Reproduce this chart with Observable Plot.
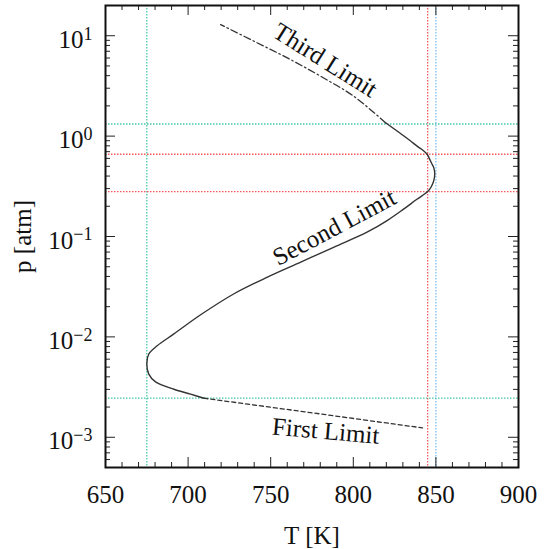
<!DOCTYPE html>
<html>
<head>
<meta charset="utf-8">
<script src="https://cdn.jsdelivr.net/npm/d3@7"></script>
<script src="https://cdn.jsdelivr.net/npm/@observablehq/plot@0.6"></script>
<style>
  html, body { margin: 0; padding: 0; background: #fff; }
</style>
</head>
<body>
<div id="chart"></div>
<script>
// Second explosion limit (solid)
const secondT = [709.6, 701.5, 691.4, 680.3, 676.2, 675, 676.2, 681.3, 691.4, 707.6, 727.8, 748, 768.2, 788.4, 808.6, 820.7, 830, 838.5, 845, 847.2, 848.8, 849.3, 848.8, 847.4, 846, 844.7, 842.3, 839, 834.5, 829, 819.5];
const secondP = [0.00245, 0.00269, 0.00301, 0.00356, 0.00426, 0.0054, 0.00675, 0.00817, 0.0107, 0.0166, 0.0269, 0.0394, 0.0556, 0.0785, 0.111, 0.145, 0.185, 0.235, 0.28, 0.313, 0.365, 0.42, 0.48, 0.536, 0.60, 0.66, 0.72, 0.785, 0.90, 1.05, 1.36];
// Third limit (dash-dot)
const thirdT = [819.5, 800.5, 780.3, 760.1, 739.9, 719.7];
const thirdP = [1.36, 2.48, 3.94, 6.01, 8.81, 12.9];
// First limit (dashed)
const firstT = [709.6, 774.2, 841.9];
const firstP = [0.00245, 0.00176, 0.00124];

// Reference lines
const refT = [675, 845, 850];
const refTColor = ["#45c8a5", "#f55a5a", "#7cc0f5"];
const refP = [1.32, 0.66, 0.28, 0.00245];
const refPColor = ["#45c8a5", "#f55a5a", "#f55a5a", "#45c8a5"];

// Curve labels
const labelText = ["Third Limit", "Second Limit", "First Limit"];
const labelT = [783, 788.5, 783.3];
const labelP = [5.7, 0.123, 0.00115];
const labelAngle = [32, -28, 5];

// Ticks
const xMajor = [650, 700, 750, 800, 850, 900];
const xMinor = d3.range(650, 901, 10).filter(v => v % 50 !== 0);
const yMajor = [1e-3, 1e-2, 1e-1, 1e0, 1e1];
const yExp = ["−3", "−2", "−1", "0", "1"];
const yMinor = [];
for (const e of [-4, -3, -2, -1, 0, 1]) for (let m = 2; m <= 9; m++) {
  const v = m * Math.pow(10, e);
  if (v >= 5e-4 && v <= 20) yMinor.push(v);
}

const toRows = (T, P) => T.map((t, i) => ({T: t, p: P[i]}));
const second = toRows(secondT, secondP);
const third = toRows(thirdT, thirdP);
const first = toRows(firstT, firstP);
const refTRows = refT.map((t, i) => ({T: t, c: refTColor[i]}));
const refPRows = refP.map((p, i) => ({p, c: refPColor[i]}));
const labels = labelText.map((s, i) => ({s, T: labelT[i], p: labelP[i], a: labelAngle[i]}));

const W = 547, H = 549, mL = 105, mR = 29, mT = 5, mB = 82;
const iw = W - mL - mR, ih = H - mT - mB;
const tickCol = "#222";
const FS = 25;

const svg = Plot.plot({
  width: W, height: H,
  marginLeft: mL, marginRight: mR, marginTop: mT, marginBottom: mB,
  style: {fontFamily: "'Liberation Serif', 'Times New Roman', serif", fontSize: FS + "px", color: "#111", background: "#fff"},
  x: {domain: [650, 900], label: null},
  y: {type: "log", domain: [5e-4, 20], label: null},
  marks: [
    Plot.ruleX(refTRows, {x: "T", stroke: "c", strokeWidth: 1.3, strokeDasharray: "1.5,1.5"}),
    Plot.ruleY(refPRows, {y: "p", stroke: "c", strokeWidth: 1.3, strokeDasharray: "1.5,1.5"}),
    Plot.line(second, {x: "T", y: "p", curve: "catmull-rom", stroke: "#333", strokeWidth: 1.4}),
    Plot.line(third, {x: "T", y: "p", curve: "catmull-rom", stroke: "#333", strokeWidth: 1.3, strokeDasharray: "7,3,1.5,3"}),
    Plot.line(first, {x: "T", y: "p", stroke: "#333", strokeWidth: 1.3, strokeDasharray: "4,3"}),
    Plot.text(labels, {x: "T", y: "p", text: "s", rotate: "a", textAnchor: "middle", lineAnchor: "middle", fill: "#111", fontSize: FS}),
    // inward ticks
    Plot.tickX(xMajor, {x: d => d, insetTop: ih - 10, stroke: tickCol}),
    Plot.tickX(xMajor, {x: d => d, insetBottom: ih - 10, stroke: tickCol}),
    Plot.tickX(xMinor, {x: d => d, insetTop: ih - 5, stroke: tickCol}),
    Plot.tickX(xMinor, {x: d => d, insetBottom: ih - 5, stroke: tickCol}),
    Plot.tickY(yMajor, {y: d => d, insetRight: iw - 10, stroke: tickCol}),
    Plot.tickY(yMajor, {y: d => d, insetLeft: iw - 10, stroke: tickCol}),
    Plot.tickY(yMinor, {y: d => d, insetRight: iw - 5, stroke: tickCol}),
    Plot.tickY(yMinor, {y: d => d, insetLeft: iw - 5, stroke: tickCol}),
    Plot.frame({stroke: "#111", strokeWidth: 2}),
    Plot.axisX(xMajor, {tickSize: 0, tickPadding: 18, tickFormat: d => String(d), label: null}),
    Plot.axisY(yMajor, {tickSize: 0, tickPadding: 13, dy: 4, tickFormat: d => "10^" + yExp[yMajor.indexOf(d)], label: null}),
    Plot.text(["T [K]"], {frameAnchor: "bottom", dy: 68, text: d => d, lineAnchor: "middle", fill: "#111", fontSize: FS}),
    Plot.text(["p [atm]"], {frameAnchor: "left", dx: -83, rotate: -90, text: d => d, lineAnchor: "middle", textAnchor: "middle", fill: "#111", fontSize: FS})
  ]
});

// Superscript exponents on y tick labels
svg.querySelectorAll('g[aria-label="y-axis tick label"] text').forEach(t => {
  const s = t.textContent;
  if (!s.includes("^")) return;
  const [b, e] = s.split("^");
  t.textContent = b;
  const ts = document.createElementNS("http://www.w3.org/2000/svg", "tspan");
  ts.setAttribute("dy", "-0.45em");
  ts.setAttribute("font-size", "18");
  ts.textContent = e;
  t.appendChild(ts);
});

document.getElementById("chart").appendChild(svg);
</script>
</body>
</html>
